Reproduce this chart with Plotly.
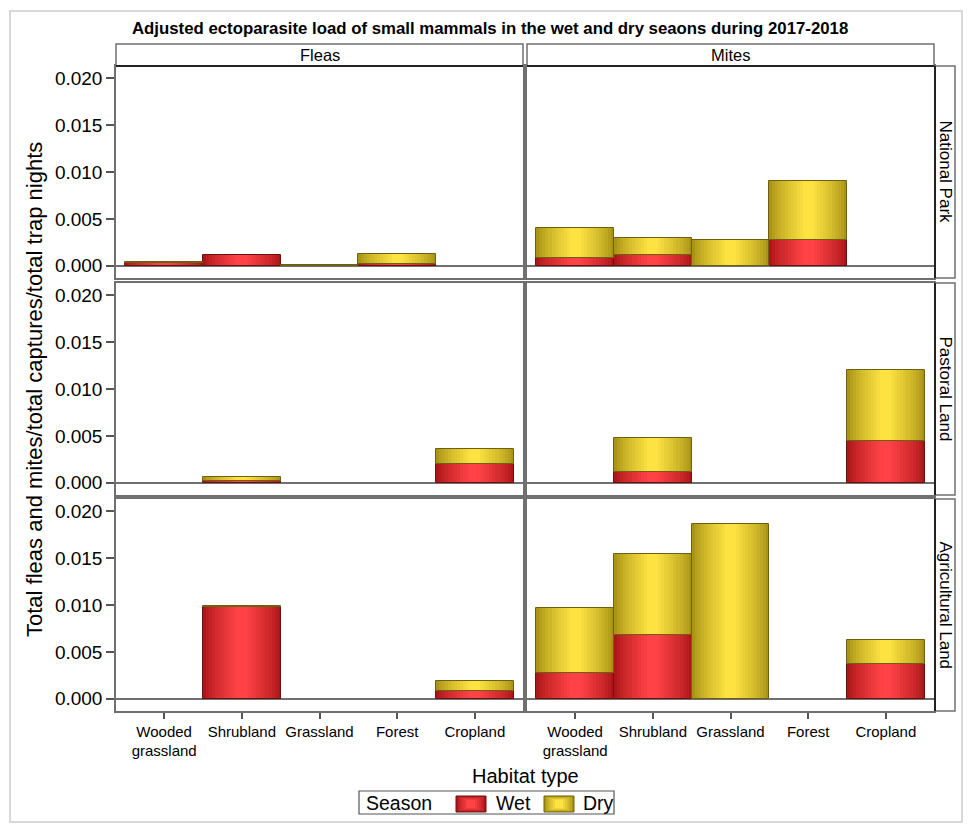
import plotly.graph_objects as go

# ---------------- data ----------------
habitats = ["Wooded<br>grassland", "Shrubland", "Grassland", "Forest", "Cropland"]
parasites = ["Fleas", "Mites"]
land_uses = ["National Park", "Pastoral Land", "Agricultural Land"]
seasons = ["Wet", "Dry"]
y_tick_values = [0.0, 0.005, 0.010, 0.015, 0.020]
y_tick_labels = ["0.000", "0.005", "0.010", "0.015", "0.020"]

# National Park
fleas_np_wet = [0.0003, 0.00115, None, 0.0002, None]
fleas_np_dry = [0.0001, None, 0.00005, 0.0011, None]
mites_np_wet = [0.0008, 0.0012, None, 0.0028, None]
mites_np_dry = [0.0032, 0.0018, 0.0028, 0.0062, None]
# Pastoral Land
fleas_pl_wet = [None, 0.0002, None, None, 0.0020]
fleas_pl_dry = [None, 0.00045, None, None, 0.0016]
mites_pl_wet = [None, 0.0011, None, None, 0.0045]
mites_pl_dry = [None, 0.0037, None, None, 0.0075]
# Agricultural Land
fleas_al_wet = [None, 0.0098, None, None, 0.0008]
fleas_al_dry = [None, 0.00006, None, None, 0.00105]
mites_al_wet = [0.0028, 0.0068, None, None, 0.0037]
mites_al_dry = [0.0069, 0.0086, 0.0186, None, 0.0026]

panels = {
    (0, 0): (fleas_np_wet, fleas_np_dry), (0, 1): (mites_np_wet, mites_np_dry),
    (1, 0): (fleas_pl_wet, fleas_pl_dry), (1, 1): (mites_pl_wet, mites_pl_dry),
    (2, 0): (fleas_al_wet, fleas_al_dry), (2, 1): (mites_al_wet, mites_al_dry),
}

# ---------------- styling / geometry ----------------
W, H = 969, 828
ML, MR, MT, MB = 116, 35, 66, 117
PW, PH = W - ML - MR, H - MT - MB
FONT = "Liberation Sans, Arial, sans-serif"


def px_x(x):
    return (x - ML) / PW


def px_y(y):
    return (H - MB - y) / PH


col_px = [(116, 523), (527, 934)]
row_px = [(66, 278), (283, 495), (499, 711)]

shading = {
    "Wet": dict(edge=(172, 24, 26), center=(255, 66, 70), line="#6a1212"),
    "Dry": dict(edge=(170, 148, 22), center=(253, 226, 66), line="#6e6012"),
}


def mix(a, b, t):
    return "rgb(%d,%d,%d)" % tuple(round(a[i] + (b[i] - a[i]) * t) for i in range(3))


N_LAYERS = 12

fig = go.Figure()

for (r, c), (wet, dry) in panels.items():
    idx = r * 2 + c + 1
    xa = "x" if idx == 1 else "x%d" % idx
    ya = "y" if idx == 1 else "y%d" % idx
    for season, vals in (("Wet", wet), ("Dry", dry)):
        xs, hs, bs = [], [], []
        for i, v in enumerate(vals):
            if v is None:
                continue
            base = 0.0
            if season == "Dry" and wet[i] is not None:
                base = wet[i]
            xs.append(i)
            hs.append(v)
            bs.append(base)
        if not xs:
            continue
        sh = shading[season]
        for k in range(N_LAYERS):
            t = k / (N_LAYERS - 1)
            w = 1.0 - k * (0.86 / (N_LAYERS - 1))
            fig.add_trace(go.Bar(
                x=xs, y=hs, base=bs, width=[w] * len(xs), name=season,
                marker=dict(color=mix(sh["edge"], sh["center"], t ** 0.8), line=dict(width=0)),
                xaxis=xa, yaxis=ya, showlegend=False, hoverinfo="skip",
            ))
        fig.add_trace(go.Bar(
            x=xs, y=hs, base=bs, width=[1.0] * len(xs), name=season,
            marker=dict(color="rgba(0,0,0,0)", line=dict(color=sh["line"], width=1)),
            xaxis=xa, yaxis=ya, showlegend=False, hoverinfo="skip",
        ))

layout = dict(
    width=W, height=H,
    margin=dict(l=ML, r=MR, t=MT, b=MB, autoexpand=False),
    paper_bgcolor="white", plot_bgcolor="white",
    barmode="overlay", bargap=0, showlegend=False,
    font=dict(family=FONT, color="black"),
)

for r in range(3):
    for c in range(2):
        idx = r * 2 + c + 1
        xk = "xaxis" if idx == 1 else "xaxis%d" % idx
        yk = "yaxis" if idx == 1 else "yaxis%d" % idx
        yname = "y" if idx == 1 else "y%d" % idx
        xname = "x" if idx == 1 else "x%d" % idx
        layout[xk] = dict(
            domain=[px_x(col_px[c][0]), px_x(col_px[c][1])],
            anchor=yname, range=[-0.62, 4.62],
            tickvals=list(range(len(habitats))), ticktext=habitats,
            showticklabels=(r == 2), ticks="outside" if r == 2 else "",
            ticklen=6, tickcolor="#555555", tickwidth=1.5,
            tickfont=dict(size=15),
            showline=True, mirror=True, linecolor="#707070", linewidth=1.5,
            showgrid=False, zeroline=False, fixedrange=True,
        )
        layout[yk] = dict(
            domain=[px_y(row_px[r][1]), px_y(row_px[r][0])],
            anchor=xname, range=[-0.0013, 0.0213],
            tickvals=y_tick_values, ticktext=y_tick_labels,
            showticklabels=(c == 0), ticks="outside" if c == 0 else "",
            ticklen=8, tickcolor="#555555", tickwidth=1.5,
            tickfont=dict(size=19),
            showline=True, mirror=True, linecolor="#707070", linewidth=1.5,
            showgrid=False, zeroline=True, zerolinecolor="#707070", zerolinewidth=1.5,
            fixedrange=True,
        )

fig.update_layout(**layout)

shapes = []
annotations = []
# outer light frame
shapes.append(dict(type="rect", xref="paper", yref="paper",
                   x0=px_x(10), x1=px_x(962), y0=px_y(822), y1=px_y(11),
                   line=dict(color="#d8d8d8", width=2), fillcolor="rgba(0,0,0,0)", layer="below"))
# column strips
for c, name in enumerate(parasites):
    x0, x1 = col_px[c]
    shapes.append(dict(type="rect", xref="paper", yref="paper",
                       x0=px_x(x0), x1=px_x(x1), y0=px_y(66), y1=px_y(44),
                       line=dict(color="#707070", width=1.5), fillcolor="white"))
    shapes.append(dict(type="line", xref="paper", yref="paper",
                       x0=px_x(x0), x1=px_x(x1), y0=px_y(66), y1=px_y(66),
                       line=dict(color="#222222", width=2)))
    annotations.append(dict(text=name, xref="paper", yref="paper",
                            x=px_x((x0 + x1) / 2), y=px_y(55), showarrow=False,
                            xanchor="center", yanchor="middle", font=dict(size=16.5)))
# row strips
for r, name in enumerate(land_uses):
    y0, y1 = row_px[r]
    shapes.append(dict(type="rect", xref="paper", yref="paper",
                       x0=px_x(935), x1=px_x(955), y0=px_y(y1), y1=px_y(y0),
                       line=dict(color="#707070", width=1.5), fillcolor="white"))
    shapes.append(dict(type="line", xref="paper", yref="paper",
                       x0=px_x(935), x1=px_x(935), y0=px_y(y1), y1=px_y(y0),
                       line=dict(color="#222222", width=2)))
    annotations.append(dict(text=name, xref="paper", yref="paper",
                            x=px_x(945.5), y=px_y((y0 + y1) / 2), showarrow=False,
                            textangle=90, xanchor="center", yanchor="middle", font=dict(size=17)))

annotations.append(dict(text="<b>Adjusted ectoparasite load of small mammals in the wet and dry seaons during 2017-2018</b>",
                        xref="paper", yref="paper", x=px_x(490), y=px_y(28), showarrow=False,
                        xanchor="center", yanchor="middle", font=dict(size=16.8)))
annotations.append(dict(text="Total fleas and mites/total captures/total trap nights",
                        xref="paper", yref="paper", x=px_x(34), y=px_y(390), showarrow=False,
                        textangle=-90, xanchor="center", yanchor="middle", font=dict(size=22)))
annotations.append(dict(text="Habitat type", xref="paper", yref="paper",
                        x=px_x(525), y=px_y(776), showarrow=False,
                        xanchor="center", yanchor="middle", font=dict(size=20)))

# legend (drawn by hand to match the reference's wide swatches)
shapes.append(dict(type="rect", xref="paper", yref="paper",
                   x0=px_x(359), x1=px_x(614), y0=px_y(814), y1=px_y(791),
                   line=dict(color="#555555", width=1.2), fillcolor="white"))
annotations.append(dict(text="Season", xref="paper", yref="paper", x=px_x(364), y=px_y(803),
                        showarrow=False, xanchor="left", yanchor="middle", font=dict(size=19.5)))
legend_pos = {"Wet": (456, 494), "Dry": (544, 581)}
for season in seasons:
    sx, tx = legend_pos[season]
    sh = shading[season]
    for k in range(6):
        t = k / 5
        inset = k * 2.2
        shapes.append(dict(type="rect", xref="paper", yref="paper",
                           x0=px_x(sx + inset), x1=px_x(sx + 30 - inset),
                           y0=px_y(812 - inset * 0.35), y1=px_y(796 + inset * 0.35),
                           line=dict(width=0), fillcolor=mix(sh["edge"], sh["center"], t ** 0.8)))
    shapes.append(dict(type="rect", xref="paper", yref="paper",
                       x0=px_x(sx), x1=px_x(sx + 30), y0=px_y(812), y1=px_y(796),
                       line=dict(color=sh["line"], width=1), fillcolor="rgba(0,0,0,0)"))
    annotations.append(dict(text=season, xref="paper", yref="paper", x=px_x(tx), y=px_y(803),
                            showarrow=False, xanchor="left", yanchor="middle", font=dict(size=19.5)))

fig.update_layout(shapes=shapes, annotations=annotations)
fig.write_html("out.html")
